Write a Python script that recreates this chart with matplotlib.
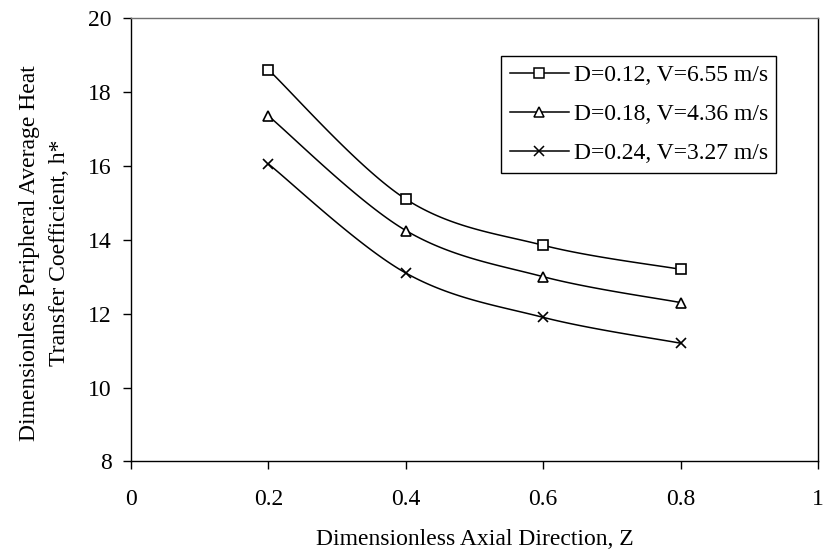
import numpy as np
import matplotlib
matplotlib.use("Agg")
import matplotlib.pyplot as plt

# valeurs
z = [0.2, 0.4, 0.6, 0.8]
h_d012 = [18.6, 15.1, 13.85, 13.2]
h_d018 = [17.35, 14.25, 13.0, 12.3]
h_d024 = [16.05, 13.1, 11.9, 11.2]
labels = ["D=0.12, V=6.55 m/s", "D=0.18, V=4.36 m/s", "D=0.24, V=3.27 m/s"]
markers = ["s", "^", "x"]


def lissage(x, y, n=40):
    """Courbe lissée façon tableur (Bezier de type Catmull-Rom)."""
    p = np.column_stack([x, y]).astype(float)
    p = np.vstack([p[0], p, p[-1]])
    out = []
    for i in range(1, len(p) - 2):
        p0, p1, p2, p3 = p[i - 1], p[i], p[i + 1], p[i + 2]
        c1 = p1 + (p2 - p0) / 6
        c2 = p2 - (p3 - p1) / 6
        t = np.linspace(0, 1, n)[:, None]
        b = (1 - t) ** 3 * p1 + 3 * (1 - t) ** 2 * t * c1 + 3 * (1 - t) * t ** 2 * c2 + t ** 3 * p2
        out.append(b if i == 1 else b[1:])
    b = np.vstack(out)
    return b[:, 0], b[:, 1]


plt.rcParams['font.family'] = ['Liberation Serif', 'DejaVu Serif']
fs = 17

fig = plt.figure(figsize=(8.23, 5.56), dpi=100)
ax = fig.add_axes([0.1592, 0.170, 0.8347, 0.7976])

for serie, lab, m in zip([h_d012, h_d018, h_d024], labels, markers):
    xs, ys = lissage(z, serie)
    ax.plot(xs, ys, color='black', lw=1.1)
    ax.plot(z, serie, linestyle='none', marker=m, ms=7,
            mfc='white', mec='black', mew=1.2)
    # entrée de légende
    ax.plot([], [], color='black', lw=1.1, marker=m, ms=7, mfc='white',
            mec='black', mew=1.1, label=lab)

ax.set_xlim(0, 1)
ax.set_ylim(8, 20)
ax.set_xticks([0, 0.2, 0.4, 0.6, 0.8, 1])
ax.set_xticklabels(['0', '0.2', '0.4', '0.6', '0.8', '1'])
ax.set_yticks(np.arange(8, 21, 2))
ax.tick_params(direction='out', length=6, width=1, labelsize=fs)
ax.tick_params(axis='x', pad=14)
ax.tick_params(axis='y', pad=8)
for s in ax.spines.values():
    s.set_linewidth(1)
    s.set_color('black')
ax.spines['top'].set_color('#707070')

ax.set_xlabel('Dimensionless Axial Direction, Z', fontsize=fs)
ax.xaxis.set_label_coords(0.5, -0.152)
ax.set_ylabel('Dimensionless Peripheral Average Heat\nTransfer Coefficient, h*',
              fontsize=fs, linespacing=1.55)
ax.yaxis.set_label_coords(-0.089, 0.47)

leg = ax.legend(loc='upper left', bbox_to_anchor=(0.5386, 0.914), borderaxespad=0,
                fancybox=False, edgecolor='black', framealpha=1, fontsize=fs,
                handlelength=2.5, handletextpad=0.2, labelspacing=0.73,
                borderpad=0.37, markerscale=0.95)
leg.get_frame().set_linewidth(1)

fig.savefig('out.png', dpi=100)
